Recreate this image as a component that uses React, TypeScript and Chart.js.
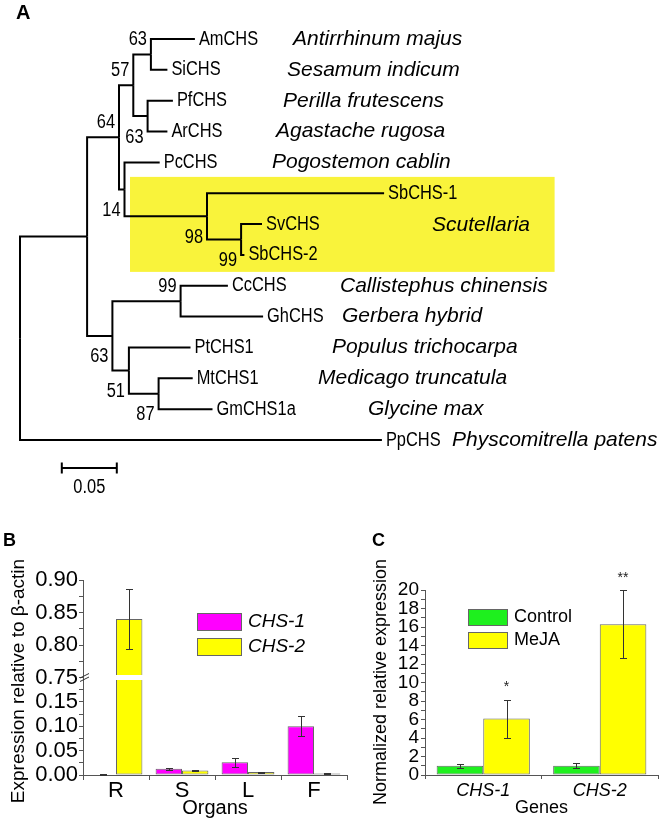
import React, { useEffect, useRef } from 'react';
import { Chart, registerables } from 'chart.js';

Chart.register(...registerables);

const SANS = "'Liberation Sans', Arial, Helvetica, sans-serif";

// ---------------- Panel A : phylogenetic tree ----------------
const leafNames = ['AmCHS', 'SiCHS', 'PfCHS', 'ArCHS', 'PcCHS', 'SbCHS-1', 'SvCHS', 'SbCHS-2', 'CcCHS', 'GhCHS', 'PtCHS1', 'MtCHS1', 'GmCHS1a', 'PpCHS'];
const speciesNames = ['Antirrhinum majus', 'Sesamum indicum', 'Perilla frutescens', 'Agastache rugosa', 'Pogostemon cablin', '', '', '', 'Callistephus chinensis', 'Gerbera hybrid', 'Populus trichocarpa', 'Medicago truncatula', 'Glycine max', 'Physcomitrella patens'];
const groupName = 'Scutellaria';
const groupMembers = ['SbCHS-1', 'SvCHS', 'SbCHS-2'];
const edgeChild = ['nMain', 'PpCHS', 'nLam', 'nOut', 'n57', 'n14', 'n63a', 'n63b', 'AmCHS', 'SiCHS', 'PfCHS', 'ArCHS', 'PcCHS', 'n98', 'SbCHS-1', 'n99s', 'SvCHS', 'SbCHS-2', 'n99c', 'n51', 'CcCHS', 'GhCHS', 'PtCHS1', 'n87', 'MtCHS1', 'GmCHS1a'];
const edgeParent = ['root', 'root', 'nMain', 'nMain', 'nLam', 'nLam', 'n57', 'n57', 'n63a', 'n63a', 'n63b', 'n63b', 'n14', 'n14', 'n98', 'n98', 'n99s', 'n99s', 'nOut', 'nOut', 'n99c', 'n99c', 'n51', 'n51', 'n87', 'n87'];
const edgeLength = [0.061, 0.329, 0.029, 0.023, 0.013, 0.005, 0.016, 0.013, 0.040, 0.015, 0.023, 0.018, 0.032, 0.075, 0.161, 0.031, 0.019, 0.003, 0.062, 0.015, 0.043, 0.075, 0.056, 0.027, 0.031, 0.049];
const bootstrapNodes = ['n63a', 'n57', 'n63b', 'nLam', 'n14', 'n98', 'n99s', 'n99c', 'nOut', 'n51', 'n87'];
const bootstrapValues = [63, 57, 63, 64, 14, 98, 99, 99, 63, 51, 87];
const scaleBarValue = 0.05;
const scaleBarLabel = '0.05';

// layout for panel A (pixels / axis units), kept apart from the data
const speciesLabelX = [293, 287, 283, 276, 272, 0, 0, 0, 340, 342, 332, 318, 368, 452];
const groupLabelX = 432;
const bootstrapAbove = ['n63a', 'n57', 'nLam', 'n99c'];

// ---------------- Panel B ----------------
const organs = ['R', 'S', 'L', 'F'];
const chs1Values = [0.001, 0.013, 0.026, 0.100];
const chs1Errors = [0.0005, 0.002, 0.009, 0.021];
const chs2Values = [0.840, 0.009, 0.006, 0.003];
const chs2Errors = [0.046, 0.001, 0.001, 0.001];
const lowerRange = [0, 0.2];
const upperRange = [0.75, 0.9];
const bSeriesNames = ['CHS-1', 'CHS-2'];

// ---------------- Panel C ----------------
const genes = ['CHS-1', 'CHS-2'];
const controlValues = [1.0, 1.0];
const controlErrors = [0.2, 0.25];
const mejaValues = [6.1, 16.3];
const mejaErrors = [2.05, 3.65];
const significance = ['*', '**'];
const cSeriesNames = ['Control', 'MeJA'];

const MAGENTA = '#FF00FF';
const YELLOW = '#FFFF00';
const GREEN = '#1EF01E';
const BAR_BORDER = '#666666';
const AXIS = '#555555';

function computeTree() {
  const xs: Record<string, number> = { root: 0 };
  edgeChild.forEach((c, i) => { xs[c] = xs[edgeParent[i]] + edgeLength[i]; });
  const children: Record<string, string[]> = {};
  edgeChild.forEach((c, i) => { (children[edgeParent[i]] = children[edgeParent[i]] || []).push(c); });
  const ys: Record<string, number> = {};
  leafNames.forEach((n, i) => { ys[n] = i; });
  const getY = (n: string): number => {
    if (ys[n] !== undefined) return ys[n];
    const cy = children[n].map(getY);
    ys[n] = (Math.min(...cy) + Math.max(...cy)) / 2;
    return ys[n];
  };
  getY('root');
  return { xs, ys };
}

function narrowText(ctx: CanvasRenderingContext2D, text: string, x: number, y: number, size: number, align: CanvasTextAlign = 'left') {
  ctx.save();
  ctx.translate(x, y);
  ctx.scale(0.82, 1);
  ctx.font = `${size}px ${SANS}`;
  ctx.textAlign = align;
  ctx.textBaseline = 'middle';
  ctx.fillStyle = '#000';
  ctx.fillText(text, 0, 0);
  ctx.restore();
}

function plainText(ctx: CanvasRenderingContext2D, text: string, x: number, y: number, font: string, align: CanvasTextAlign = 'left', color = '#000') {
  ctx.save();
  ctx.font = font;
  ctx.textAlign = align;
  ctx.textBaseline = 'middle';
  ctx.fillStyle = color;
  ctx.fillText(text, x, y);
  ctx.restore();
}

function rotatedText(ctx: CanvasRenderingContext2D, text: string, x: number, y: number, font: string) {
  ctx.save();
  ctx.translate(x, y);
  ctx.rotate(-Math.PI / 2);
  ctx.font = font;
  ctx.textAlign = 'center';
  ctx.textBaseline = 'middle';
  ctx.fillStyle = '#000';
  ctx.fillText(text, 0, 0);
  ctx.restore();
}

function errorBar(ctx: CanvasRenderingContext2D, x: number, yTop: number, yBot: number) {
  ctx.save();
  ctx.strokeStyle = '#333';
  ctx.lineWidth = 1;
  ctx.beginPath();
  ctx.moveTo(x + 0.5, yTop);
  ctx.lineTo(x + 0.5, yBot);
  ctx.moveTo(x - 3, yTop + 0.5);
  ctx.lineTo(x + 4, yTop + 0.5);
  ctx.moveTo(x - 3, yBot + 0.5);
  ctx.lineTo(x + 4, yBot + 0.5);
  ctx.stroke();
  ctx.restore();
}

function legendBoxes(ctx: CanvasRenderingContext2D, x: number, y: number, w: number, h: number, step: number, items: { color: string; text: string }[], font: string) {
  items.forEach((it, i) => {
    const yy = y + i * step;
    ctx.save();
    ctx.fillStyle = it.color;
    ctx.fillRect(x, yy, w, h);
    ctx.strokeStyle = BAR_BORDER;
    ctx.lineWidth = 1;
    ctx.strokeRect(x + 0.5, yy + 0.5, w - 1, h - 1);
    ctx.restore();
    plainText(ctx, it.text, x + w + 6, yy + h / 2, font);
  });
}

export default function App() {
  const refA = useRef<HTMLCanvasElement>(null);
  const refB = useRef<HTMLCanvasElement>(null);
  const refC = useRef<HTMLCanvasElement>(null);

  useEffect(() => {
    document.body.style.margin = '0';
    Chart.defaults.font.family = SANS;
    Chart.defaults.color = '#000';

    // ---------- A ----------
    const { xs, ys } = computeTree();
    const treeDatasets = edgeChild.map((c, i) => {
      const p = edgeParent[i];
      return {
        data: [{ x: xs[p], y: ys[p] }, { x: xs[p], y: ys[c] }, { x: xs[c], y: ys[c] }],
        showLine: true,
        borderColor: '#000',
        borderWidth: 2,
        pointRadius: 0,
        borderJoinStyle: 'miter',
        borderCapStyle: 'butt',
        tension: 0,
        clip: false,
      };
    });
    const treePlugin = {
      id: 'treeDeco',
      beforeDatasetsDraw(chart: any) {
        const { ctx, scales: { x, y } } = chart;
        const idx = groupMembers.map((n) => leafNames.indexOf(n));
        const y0 = y.getPixelForValue(Math.min(...idx) - 0.53);
        const y1 = y.getPixelForValue(Math.max(...idx) + 0.55);
        const x0 = x.getPixelForValue(0.1);
        const x1 = x.getPixelForValue(0.486);
        ctx.save();
        ctx.fillStyle = '#F9F33B';
        ctx.fillRect(x0, y0, x1 - x0, y1 - y0);
        ctx.restore();
      },
      afterDatasetsDraw(chart: any) {
        const { ctx, scales: { x, y } } = chart;
        leafNames.forEach((n, i) => {
          narrowText(ctx, n, x.getPixelForValue(xs[n]) + 4, y.getPixelForValue(i), 20);
          if (speciesNames[i]) plainText(ctx, speciesNames[i], speciesLabelX[i], y.getPixelForValue(i), `italic 21px ${SANS}`);
        });
        const gi = leafNames.indexOf(groupMembers[1]);
        plainText(ctx, groupName, groupLabelX, y.getPixelForValue(gi) + 1, `italic 21px ${SANS}`);
        bootstrapNodes.forEach((n, i) => {
          const px = x.getPixelForValue(xs[n]) - 4;
          const py = y.getPixelForValue(ys[n]) + (bootstrapAbove.includes(n) ? -15 : 21);
          narrowText(ctx, String(bootstrapValues[i]), px, py, 20, 'right');
        });
        // scale bar
        const sx0 = x.getPixelForValue(0.038);
        const sx1 = x.getPixelForValue(0.038 + scaleBarValue);
        const sy = y.getPixelForValue(13.91);
        ctx.save();
        ctx.strokeStyle = '#000';
        ctx.lineWidth = 2;
        ctx.beginPath();
        ctx.moveTo(sx0, sy);
        ctx.lineTo(sx1, sy);
        ctx.moveTo(sx0, sy - 5.5);
        ctx.lineTo(sx0, sy + 5.5);
        ctx.moveTo(sx1, sy - 5.5);
        ctx.lineTo(sx1, sy + 5.5);
        ctx.stroke();
        ctx.restore();
        narrowText(ctx, scaleBarLabel, (sx0 + sx1) / 2, sy + 19, 20, 'center');
        plainText(ctx, 'A', 16, 13, `bold 20px ${SANS}`);
      },
    };
    const chartA = new Chart(refA.current as HTMLCanvasElement, {
      type: 'scatter',
      data: { datasets: treeDatasets as any },
      options: {
        responsive: false,
        animation: false,
        devicePixelRatio: 1,
        events: [],
        layout: { padding: { left: 20, right: 90, top: 39, bottom: 380 } },
        plugins: { legend: { display: false }, tooltip: { enabled: false } },
        scales: {
          x: { type: 'linear', display: false, min: 0, max: 0.5 },
          y: { type: 'linear', display: false, min: 0, max: leafNames.length - 1, reverse: true },
        },
      },
      plugins: [treePlugin],
    } as any);

    // ---------- B ----------
    const isMajor = (v: number) => Math.abs(Math.round(v * 1000) % 50) === 0;
    const bTicks = (hideTop: boolean) => ({
      stepSize: 0.025,
      autoSkip: false,
      padding: 1,
      font: { size: 22 },
      color: '#000',
      callback: (v: number) => {
        if (hideTop && Math.abs(v - lowerRange[1]) < 1e-6) return '';
        return isMajor(v) ? v.toFixed(2) : '';
      },
    });
    const bGrid = { display: true, drawOnChartArea: false, drawTicks: true, tickLength: 4, color: AXIS };
    const bBarsCommon = { borderColor: BAR_BORDER, borderWidth: 1, borderSkipped: false, categoryPercentage: 0.8, barPercentage: 1.0 };
    const bPlugin = {
      id: 'bDeco',
      afterDatasetsDraw(chart: any) {
        const { ctx, chartArea: ca } = chart;
        const yLow = chart.scales.yLow;
        const yHigh = chart.scales.yHigh;
        const toPx = (v: number) => (v >= upperRange[0] ? yHigh.getPixelForValue(v) : yLow.getPixelForValue(Math.min(Math.max(v, 0), lowerRange[1])));
        // axis break
        const by = yHigh.bottom;
        ctx.save();
        ctx.fillStyle = '#fff';
        ctx.fillRect(ca.left + 1, by - 2.5, ca.right - ca.left, 5);
        ctx.strokeStyle = '#333';
        ctx.lineWidth = 1;
        ctx.beginPath();
        ctx.moveTo(ca.left - 3, by + 0.5);
        ctx.lineTo(ca.left + 6, by - 4);
        ctx.moveTo(ca.left - 3, by + 4);
        ctx.lineTo(ca.left + 6, by - 0.5);
        ctx.stroke();
        ctx.restore();
        const series: [number, number[], number[]][] = [[0, chs1Values, chs1Errors], [1, chs2Values, chs2Errors]];
        series.forEach(([di, vals, errs]) => {
          const meta = chart.getDatasetMeta(di);
          vals.forEach((v, i) => {
            const bx = meta.data[i].x;
            errorBar(ctx, Math.round(bx), Math.round(toPx(v + errs[i])), Math.round(toPx(v - errs[i])));
          });
        });
        legendBoxes(ctx, ca.left + 114, ca.top + 33, 45, 18, 25, [
          { color: MAGENTA, text: bSeriesNames[0] },
          { color: YELLOW, text: bSeriesNames[1] },
        ], `italic 19px ${SANS}`);
        rotatedText(ctx, 'Expression relative to \u03B2-actin', 19, 681, `19px ${SANS}`);
        plainText(ctx, 'B', 3, 541, `bold 18px ${SANS}`);
      },
    };
    const chartB = new Chart(refB.current as HTMLCanvasElement, {
      type: 'bar',
      data: {
        labels: organs,
        datasets: [
          { label: bSeriesNames[0], stack: 's1', yAxisID: 'yLow', data: chs1Values.map((v) => [lowerRange[0], Math.min(v, lowerRange[1])]), backgroundColor: MAGENTA, ...bBarsCommon },
          { label: bSeriesNames[1], stack: 's2', yAxisID: 'yLow', data: chs2Values.map((v) => [lowerRange[0], Math.min(v, lowerRange[1])]), backgroundColor: YELLOW, ...bBarsCommon },
          { label: bSeriesNames[0], stack: 's1', yAxisID: 'yHigh', data: chs1Values.map((v) => (v > upperRange[0] ? [upperRange[0], v] : null)), backgroundColor: MAGENTA, ...bBarsCommon },
          { label: bSeriesNames[1], stack: 's2', yAxisID: 'yHigh', data: chs2Values.map((v) => (v > upperRange[0] ? [upperRange[0], v] : null)), backgroundColor: YELLOW, ...bBarsCommon },
        ],
      },
      options: {
        responsive: false,
        animation: false,
        devicePixelRatio: 1,
        events: [],
        layout: { padding: { left: 8, right: 313, top: 580, bottom: 0 } },
        plugins: { legend: { display: false }, tooltip: { enabled: false } },
        scales: {
          x: {
            type: 'category',
            offset: true,
            grid: { display: true, drawOnChartArea: false, tickLength: 5, color: AXIS, offset: true },
            border: { color: AXIS, width: 1 },
            ticks: { font: { size: 22 }, color: '#000', padding: -2 },
            title: { display: true, text: 'Organs', font: { size: 20 }, color: '#000', padding: { top: 0, bottom: 0 } },
            afterFit: (s: any) => { s.height = 45; },
          },
          yLow: {
            type: 'linear', position: 'left', stack: 'b', stackWeight: 1, stacked: false,
            min: lowerRange[0], max: lowerRange[1],
            ticks: bTicks(true), grid: bGrid, border: { color: AXIS, width: 1 },
            afterFit: (s: any) => { s.width = 75; },
          },
          yHigh: {
            type: 'linear', position: 'left', stack: 'b', stackWeight: 1, stacked: false,
            min: upperRange[0], max: upperRange[1],
            ticks: bTicks(false), grid: bGrid, border: { color: AXIS, width: 1 },
            afterFit: (s: any) => { s.width = 75; },
          },
        },
      },
      plugins: [bPlugin],
    } as any);

    // ---------- C ----------
    const cPlugin = {
      id: 'cDeco',
      afterDatasetsDraw(chart: any) {
        const { ctx, chartArea: ca } = chart;
        const yS = chart.scales.y;
        const series: [number, number[], number[]][] = [[0, controlValues, controlErrors], [1, mejaValues, mejaErrors]];
        series.forEach(([di, vals, errs]) => {
          const meta = chart.getDatasetMeta(di);
          vals.forEach((v, i) => {
            errorBar(ctx, Math.round(meta.data[i].x), Math.round(yS.getPixelForValue(v + errs[i])), Math.round(yS.getPixelForValue(v - errs[i])));
          });
        });
        const metaM = chart.getDatasetMeta(1);
        significance.forEach((s, i) => {
          plainText(ctx, s, metaM.data[i].x, yS.getPixelForValue(mejaValues[i] + mejaErrors[i]) - 12, `14px ${SANS}`, 'center', '#222');
        });
        legendBoxes(ctx, ca.left + 43, ca.top + 19, 40, 17, 23, [
          { color: GREEN, text: cSeriesNames[0] },
          { color: YELLOW, text: cSeriesNames[1] },
        ], `18px ${SANS}`);
        rotatedText(ctx, 'Normalized relative expression', 381, 682, `18px ${SANS}`);
        plainText(ctx, 'C', 372, 541, `bold 18px ${SANS}`);
      },
    };
    const cBar = { borderColor: BAR_BORDER, borderWidth: 1, borderSkipped: false, categoryPercentage: 0.8, barPercentage: 1.0 };
    const chartC = new Chart(refC.current as HTMLCanvasElement, {
      type: 'bar',
      data: {
        labels: genes,
        datasets: [
          { label: cSeriesNames[0], data: controlValues, backgroundColor: GREEN, ...cBar },
          { label: cSeriesNames[1], data: mejaValues, backgroundColor: YELLOW, ...cBar },
        ],
      },
      options: {
        responsive: false,
        animation: false,
        devicePixelRatio: 1,
        events: [],
        layout: { padding: { left: 370, right: 2, top: 590, bottom: 0 } },
        plugins: { legend: { display: false }, tooltip: { enabled: false } },
        scales: {
          x: {
            type: 'category',
            offset: true,
            grid: { display: true, drawOnChartArea: false, tickLength: 4, color: AXIS, offset: true },
            border: { color: AXIS, width: 1 },
            ticks: { font: { size: 18, style: 'italic' }, color: '#000', padding: 1 },
            title: { display: true, text: 'Genes', font: { size: 18 }, color: '#000', padding: { top: 0, bottom: 1 } },
            afterFit: (s: any) => { s.height = 45; },
          },
          y: {
            type: 'linear', position: 'left', min: 0, max: 20,
            ticks: { stepSize: 1, autoSkip: false, padding: 2, font: { size: 19 }, color: '#000', callback: (v: number) => (Math.round(v) % 2 === 0 ? String(v) : '') },
            grid: { display: true, drawOnChartArea: false, tickLength: 4, color: AXIS },
            border: { color: AXIS, width: 1 },
            afterFit: (s: any) => { s.width = 55; },
          },
        },
      },
      plugins: [cPlugin],
    } as any);

    return () => {
      chartA.destroy();
      chartB.destroy();
      chartC.destroy();
    };
  }, []);

  const cs: React.CSSProperties = { position: 'absolute', left: 0, top: 0 };
  return (
    <div style={{ position: 'relative', width: 660, height: 820, background: '#fff', overflow: 'hidden' }}>
      <canvas ref={refA} width={660} height={820} style={cs} />
      <canvas ref={refB} width={660} height={820} style={cs} />
      <canvas ref={refC} width={660} height={820} style={cs} />
    </div>
  );
}
